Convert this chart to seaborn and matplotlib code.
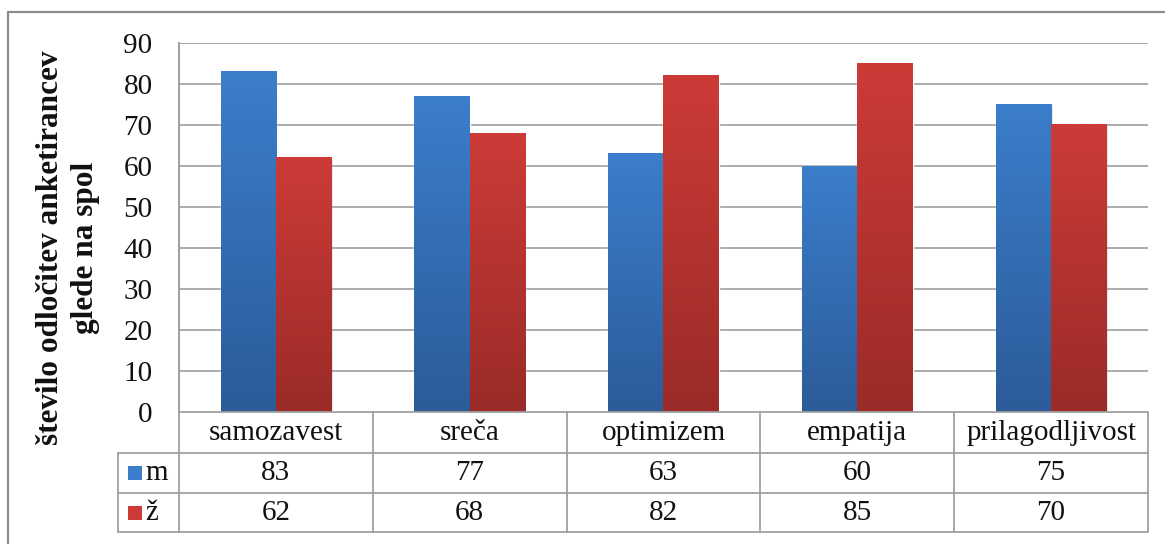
import numpy as np
import pandas as pd
import matplotlib
matplotlib.use("Agg")
import matplotlib.pyplot as plt
import matplotlib.transforms as mtransforms
from matplotlib.colors import LinearSegmentedColormap
from matplotlib.lines import Line2D
from matplotlib.patches import Rectangle
import seaborn as sns

# ---- data -------------------------------------------------------------
categories = ["samozavest", "sreča", "optimizem", "empatija", "prilagodljivost"]
series_names = ["m", "ž"]
values_m = [83, 77, 63, 60, 75]
values_z = [62, 68, 82, 85, 70]
y_ticks = [0, 10, 20, 30, 40, 50, 60, 70, 80, 90]
y_label = "število odločitev anketirancev\nglede na spol"

df = pd.DataFrame({
    "kategorija": categories * 2,
    "spol": [series_names[0]] * len(categories) + [series_names[1]] * len(categories),
    "vrednost": values_m + values_z,
})

# ---- style ------------------------------------------------------------
sns.set_theme(style="white")
plt.rcParams["font.family"] = ["Liberation Serif", "DejaVu Serif"]

BLUE_TOP, BLUE_BOT = "#3b7ecb", "#2c5b99"
RED_TOP, RED_BOT = "#cd3b37", "#9a2b28"
GRID = "#a6a6a6"
LINE = "#a0a0a0"
FS = 21

W, H = 1165, 544
fig = plt.figure(figsize=(W / 100, H / 100), dpi=100)


def fx(px):
    return px / W


def fy(py):
    return 1 - py / H


left, right, top, bottom = 179, 1148, 43, 412
ax = fig.add_axes([fx(left), fy(bottom), fx(right) - fx(left), fy(top) - fy(bottom)])

sns.barplot(data=df, x="kategorija", y="vrednost", hue="spol",
            palette=[BLUE_TOP, RED_TOP], width=0.57, saturation=1,
            legend=False, ax=ax, zorder=3)

# vertical gradient fill for each bar
grad = np.linspace(0, 1, 256).reshape(-1, 1)
cmaps = {
    BLUE_TOP: LinearSegmentedColormap.from_list("b", [BLUE_BOT, BLUE_TOP]),
    RED_TOP: LinearSegmentedColormap.from_list("r", [RED_BOT, RED_TOP]),
}
bars = [p for p in ax.patches if isinstance(p, Rectangle) and p.get_height() > 0]
n = len(categories)
for i, p in enumerate(bars):
    cm = cmaps[BLUE_TOP] if i < n else cmaps[RED_TOP]
    x0, w, h = p.get_x(), p.get_width(), p.get_height()
    # soft shadow
    sh = mtransforms.offset_copy(ax.transData, fig=fig, x=1.5, y=-1.5, units="dots")
    ax.add_patch(Rectangle((x0, 0), w, h, transform=sh, facecolor="#000000",
                           alpha=0.12, edgecolor="none", zorder=2.5))
    ax.imshow(grad, extent=[x0, x0 + w, 0, h], origin="lower", aspect="auto",
              cmap=cm, zorder=3.2, interpolation="bilinear")

ax.set_xlim(-0.5, n - 0.5)
ax.set_ylim(0, 90)
ax.set_yticks(y_ticks)
ax.set_yticklabels([str(t) for t in y_ticks], fontsize=FS, color="#111111")
ax.tick_params(axis="y", length=0, pad=19)
ax.set_xticks([])
ax.set_xlabel("")
ax.set_ylabel("")
for t in y_ticks[1:]:
    ax.axhline(t, color=GRID, lw=1.3, zorder=1)
for s in ["top", "right", "bottom"]:
    ax.spines[s].set_visible(False)
ax.spines["left"].set_color(LINE)
ax.spines["left"].set_linewidth(1.3)

# y-axis title
fig.text(fx(68), fy(248), y_label, rotation=90, ha="center", va="center",
         fontsize=22.5, fontweight="bold", linespacing=1.3, color="#111111")

# ---- data table under the plot ---------------------------------------
tr = mtransforms.blended_transform_factory(ax.transData, fig.transFigure)
ftr = fig.transFigure
row_y = [412, 453, 493, 532]
legend_left = 118


def hline(y, x0, x1):
    fig.add_artist(Line2D([fx(x0), fx(x1)], [fy(y), fy(y)], color=LINE, lw=1.3,
                          transform=ftr))


def vline(x, y0, y1):
    fig.add_artist(Line2D([fx(x), fx(x)], [fy(y0), fy(y1)], color=LINE, lw=1.3,
                          transform=ftr))


hline(row_y[0], left, right)
for y in row_y[1:]:
    hline(y, legend_left, right)
vline(left, top, row_y[3])
vline(legend_left, row_y[1], row_y[3])
for k in range(1, n + 1):
    xb = -0.5 + k
    fig.add_artist(Line2D([xb, xb], [fy(row_y[0]), fy(row_y[3])], color=LINE,
                          lw=1.3, transform=tr))

for i, cat in enumerate(categories):
    fig.text(i, fy((row_y[0] + row_y[1]) / 2), cat, transform=tr,
             ha="center", va="center", fontsize=FS, color="#111111")
    fig.text(i, fy((row_y[1] + row_y[2]) / 2), str(values_m[i]), transform=tr,
             ha="center", va="center", fontsize=FS, color="#111111")
    fig.text(i, fy((row_y[2] + row_y[3]) / 2), str(values_z[i]), transform=tr,
             ha="center", va="center", fontsize=FS, color="#111111")

# legend keys in the table
for r, (name, c) in enumerate(zip(series_names, [BLUE_TOP, RED_TOP])):
    yc = (row_y[1 + r] + row_y[2 + r]) / 2
    fig.add_artist(Rectangle((fx(128), fy(yc + 7)), fx(142) - fx(128), fy(yc - 7) - fy(yc + 7),
                             transform=ftr, facecolor=c, edgecolor="none"))
    fig.text(fx(145), fy(yc), name, ha="left", va="center", fontsize=FS, color="#111111")

# outer chart frame
fig.add_artist(Line2D([fx(8), 1], [fy(12), fy(12)], color="#8c8c8c", lw=1.6, transform=ftr))
fig.add_artist(Line2D([fx(8), fx(8)], [fy(12), 0], color="#8c8c8c", lw=1.6, transform=ftr))

fig.savefig("out.png", dpi=100, facecolor="white")
